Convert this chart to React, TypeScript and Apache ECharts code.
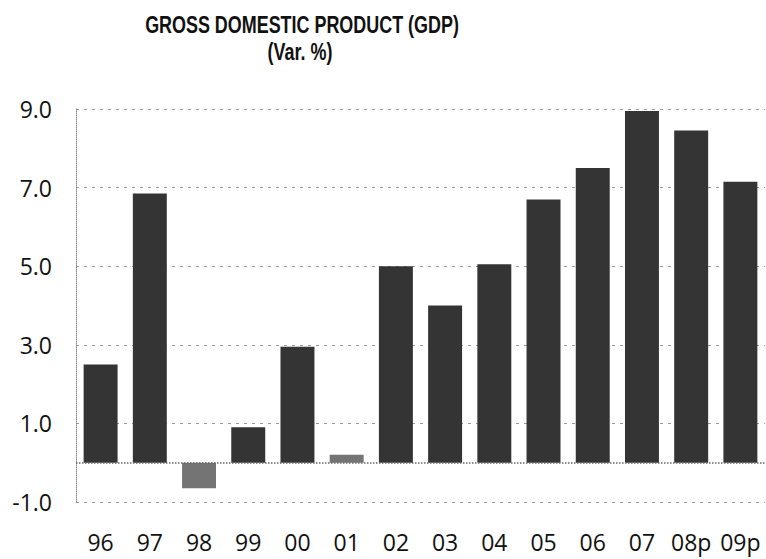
import React, { useEffect, useRef } from "react";
import * as echarts from "echarts";

const categories = ["96", "97", "98", "99", "00", "01", "02", "03", "04", "05", "06", "07", "08p", "09p"];
const gdpValues = [2.5, 6.85, -0.65, 0.9, 2.95, 0.2, 5.0, 4.0, 5.05, 6.7, 7.5, 8.95, 8.45, 7.15];
const lightBars = ["98", "01"];
const titleLine1 = "GROSS DOMESTIC PRODUCT (GDP)";
const titleLine2 = "(Var. %)";
const yMin = -1;
const yMax = 9;
const yStep = 2;

export default function App() {
  const ref = useRef<HTMLDivElement>(null);
  useEffect(() => {
    document.body.style.margin = "0";
    if (!ref.current) return;
    const chart = echarts.init(ref.current, undefined, { renderer: "svg" });
    const labelFont = { fontFamily: "Open Sans", fontSize: 23, color: "#111" };
    const titleStyle = {
      fontFamily: "Liberation Sans",
      fontWeight: "bold",
      fontSize: 23,
      fill: "#111",
      align: "center",
      verticalAlign: "middle",
    };
    chart.setOption({
      animation: false,
      backgroundColor: "#fff",
      graphic: [
        { type: "text", x: 302, y: 25, scaleX: 0.78, style: { ...titleStyle, text: titleLine1 } },
        { type: "text", x: 300, y: 52, scaleX: 0.78, style: { ...titleStyle, text: titleLine2 } },
      ],
      grid: { left: 76, right: 1, top: 109, bottom: 57, containLabel: false },
      xAxis: {
        type: "category",
        data: categories,
        axisLine: { show: false, onZero: false },
        axisTick: { show: false },
        axisLabel: { ...labelFont, interval: 0, margin: 30, lineHeight: 20 },
      },
      yAxis: {
        type: "value",
        min: yMin,
        max: yMax,
        interval: yStep,
        axisLine: { show: true, lineStyle: { color: "#888", type: "dotted", width: 1 } },
        axisTick: { show: false },
        axisLabel: {
          ...labelFont,
          margin: 24,
          formatter: (v: number) => v.toFixed(1),
        },
        splitLine: { show: true, lineStyle: { color: "#999", type: [3, 5], width: 1 } },
      },
      series: [
        {
          type: "bar",
          data: gdpValues.map((v, i) => ({
            value: v,
            itemStyle: { color: lightBars.includes(categories[i]) ? "#747474" : "#343434" },
          })),
          barCategoryGap: "31%",
          markLine: {
            silent: true,
            symbol: "none",
            label: { show: false },
            lineStyle: { color: "#666", type: "dotted", width: 1.5 },
            data: [{ yAxis: 0 }],
          },
        },
      ],
    });
    return () => chart.dispose();
  }, []);
  return <div ref={ref} style={{ width: 766, height: 559 }} />;
}
